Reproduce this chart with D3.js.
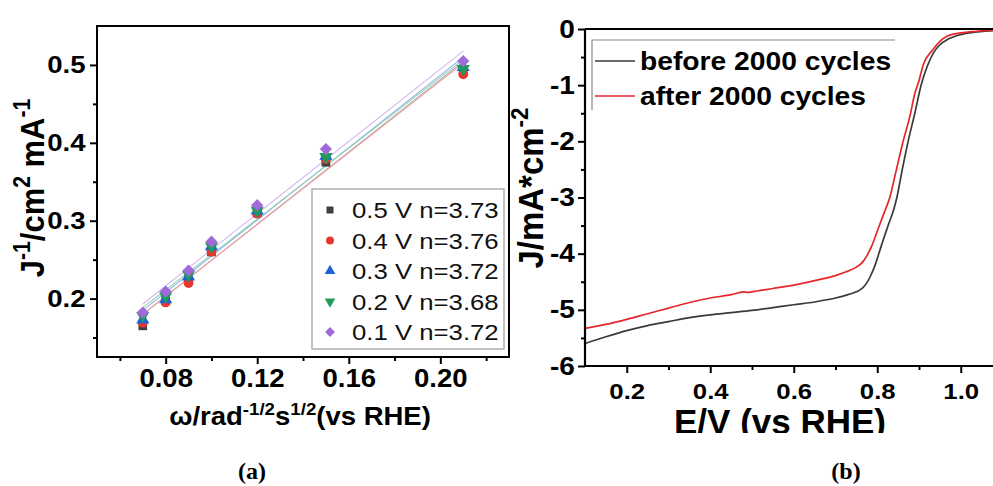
<!DOCTYPE html>
<html>
<head>
<meta charset="utf-8">
<script src="https://cdn.jsdelivr.net/npm/d3@7"></script>
<style>
  html, body { margin: 0; padding: 0; background: #fff; }
  svg { display: block; }
  text { font-family: "Liberation Sans", Arial, sans-serif; }
</style>
</head>
<body>
<script>
// ---------- Panel (a): Koutecky-Levich plots ----------
const klOmega = [0.07, 0.08, 0.09, 0.10, 0.12, 0.15, 0.21];
const klLabels = ["0.5 V n=3.73", "0.4 V n=3.76", "0.3 V n=3.72", "0.2 V n=3.68", "0.1 V n=3.72"];
const kl05 = [0.165, 0.197, 0.224, 0.260, 0.310, 0.375, 0.492];
const kl04 = [0.169, 0.195, 0.220, 0.260, 0.309, 0.379, 0.488];
const kl03 = [0.173, 0.199, 0.228, 0.267, 0.313, 0.383, 0.497];
const kl02 = [0.178, 0.203, 0.231, 0.267, 0.313, 0.382, 0.495];
const kl01 = [0.182, 0.209, 0.236, 0.273, 0.320, 0.392, 0.505];
const klXTicks = [0.08, 0.12, 0.16, 0.20];
const klXMinor = [0.06, 0.10, 0.14, 0.18, 0.22];
const klYTicks = [0.2, 0.3, 0.4, 0.5];
const klYMinor = [0.15, 0.25, 0.35, 0.45];

// ---------- Panel (b): LSV before / after cycling ----------
const lsvBeforeE = [0.10, 0.15, 0.20, 0.25, 0.30, 0.35, 0.40, 0.45, 0.50, 0.55, 0.60, 0.65, 0.70, 0.73, 0.75, 0.765, 0.775,
  0.785, 0.795, 0.805, 0.815, 0.825, 0.84, 0.847, 0.86, 0.874, 0.89, 0.905, 0.92, 0.935, 0.95, 0.97, 1.00, 1.03, 1.06, 1.10];
const lsvBeforeJ = [-5.60, -5.48, -5.37, -5.28, -5.21, -5.14, -5.09, -5.05, -5.01, -4.96, -4.91, -4.86, -4.79, -4.73, -4.68, -4.61, -4.52,
  -4.38, -4.20, -3.97, -3.74, -3.52, -3.20, -3.00, -2.50, -2.00, -1.50, -1.00, -0.66, -0.42, -0.28, -0.18, -0.10, -0.06, -0.04, -0.02];
const lsvAfterE = [0.10, 0.15, 0.20, 0.25, 0.30, 0.35, 0.40, 0.45, 0.48, 0.49, 0.50, 0.55, 0.60, 0.65, 0.70, 0.73, 0.75, 0.765,
  0.775, 0.787, 0.80, 0.815, 0.83, 0.846, 0.862, 0.878, 0.89, 0.90, 0.91, 0.933, 0.95, 0.967, 1.00, 1.04, 1.10];
const lsvAfterJ = [-5.33, -5.26, -5.17, -5.07, -4.97, -4.87, -4.79, -4.73, -4.68, -4.69, -4.68, -4.62, -4.56, -4.48, -4.39, -4.31, -4.24, -4.15,
  -4.04, -3.86, -3.60, -3.30, -3.00, -2.50, -2.00, -1.56, -1.15, -0.92, -0.64, -0.37, -0.22, -0.13, -0.07, -0.04, -0.01];
const lsvLabels = ["before 2000 cycles", "after 2000 cycles"];
const lsvXTicks = [0.2, 0.4, 0.6, 0.8, 1.0];
const lsvXMinor = [0.3, 0.5, 0.7, 0.9];
const lsvYTicks = [-6, -5, -4, -3, -2, -1, 0];
const lsvYMinor = [-5.5, -4.5, -3.5, -2.5, -1.5, -0.5];

const W = 993, H = 486;
const svg = d3.select("body").append("svg").attr("width", W).attr("height", H);

// Draws a text made of normal and superscript parts
function richText(sel, parts, fs) {
  let raised = false;
  parts.forEach(p => {
    const ts = sel.append("tspan").text(p.t);
    if (p.sup) {
      ts.attr("font-size", fs * 0.68).attr("dy", raised ? 0 : -fs * 0.42);
      raised = true;
    } else {
      ts.attr("font-size", fs);
      if (raised) { ts.attr("dy", fs * 0.42); raised = false; }
    }
  });
  return sel;
}

function styleAxis(g, fs, sx, dx, dy) {
  g.select(".domain").remove();
  g.selectAll(".tick line").attr("stroke", "#000").attr("stroke-width", 2);
  g.selectAll(".tick text")
    .attr("font-size", fs).attr("font-weight", "bold").attr("fill", "#000")
    .attr("transform", `scale(${sx},1)`);
  if (dx !== undefined) g.selectAll(".tick text").attr("x", dx);
  if (dy !== undefined) g.selectAll(".tick text").attr("y", dy).attr("dy", 0);
}

// ================= Panel (a) =================
const xA = d3.scaleLinear().domain([0.05, 0.23]).range([97, 509]);
const yA = d3.scaleLinear().domain([0.125, 0.55]).range([357, 26]);

// marker styles; the diamond is a square turned by 45 degrees
const klSeries = [
  { vals: kl05, color: "#404040", line: "#a8a8a8", sym: d3.symbolSquare, size: 75, rot: 0 },
  { vals: kl04, color: "#e8352f", line: "#f0a0a0", sym: d3.symbolCircle, size: 75, rot: 0 },
  { vals: kl03, color: "#1e63d6", line: "#8fb6ec", sym: d3.symbolTriangle, size: 75, rot: 0 },
  { vals: kl02, color: "#1f9a5a", line: "#93d2ad", sym: d3.symbolTriangle, size: 75, rot: 180 },
  { vals: kl01, color: "#a26ad8", line: "#d3b6f0", sym: d3.symbolSquare, size: 75, rot: 45 }
];
// least squares fit for each series
function fit(xs, ys) {
  const mx = d3.mean(xs), my = d3.mean(ys);
  const b = d3.sum(xs, (x, i) => (x - mx) * (ys[i] - my)) / d3.sum(xs, x => (x - mx) * (x - mx));
  return { b, a: my - b * mx };
}
const gA = svg.append("g");
const x0 = d3.min(klOmega), x1 = d3.max(klOmega);
klSeries.forEach(s => {
  const f = fit(klOmega, s.vals);
  gA.append("line")
    .attr("x1", xA(x0)).attr("y1", yA(f.a + f.b * x0))
    .attr("x2", xA(x1)).attr("y2", yA(f.a + f.b * x1))
    .attr("stroke", s.line).attr("stroke-width", 1.1);
});
klSeries.forEach(s => {
  gA.selectAll(null).data(klOmega).enter().append("path")
    .attr("d", d3.symbol().type(s.sym).size(s.size))
    .attr("transform", (d, i) => `translate(${xA(d)},${yA(s.vals[i])}) rotate(${s.rot})`)
    .attr("fill", s.color);
});

// axes of (a)
svg.append("g").attr("transform", "translate(0,357)")
  .call(d3.axisBottom(xA).tickValues(klXMinor).tickSize(4).tickFormat(""))
  .call(g => { g.select(".domain").remove(); g.selectAll("line").attr("stroke", "#000").attr("stroke-width", 2); });
svg.append("g").attr("transform", "translate(0,357)")
  .call(d3.axisBottom(xA).tickValues(klXTicks).tickSize(7).tickFormat(d3.format(".2f")))
  .call(g => styleAxis(g, 25, 1.1, undefined, 30));
svg.append("g").attr("transform", "translate(97,0)")
  .call(d3.axisLeft(yA).tickValues(klYMinor).tickSize(4).tickFormat(""))
  .call(g => { g.select(".domain").remove(); g.selectAll("line").attr("stroke", "#000").attr("stroke-width", 2); });
svg.append("g").attr("transform", "translate(97,0)")
  .call(d3.axisLeft(yA).tickValues(klYTicks).tickSize(7).tickFormat(d3.format(".1f")))
  .call(g => styleAxis(g, 24, 1.15, -10));
svg.append("rect").attr("x", 97).attr("y", 26).attr("width", 412).attr("height", 331)
  .attr("fill", "none").attr("stroke", "#000").attr("stroke-width", 2);

// legend of (a)
const legA = svg.append("g");
legA.append("rect").attr("x", 312).attr("y", 189).attr("width", 192).attr("height", 160)
  .attr("fill", "#fff").attr("stroke", "#9a9a9a").attr("stroke-width", 1.2);
klSeries.forEach((s, i) => {
  const cy = 210 + i * 30.5;
  legA.append("path").attr("d", d3.symbol().type(s.sym).size(s.size * 0.65))
    .attr("transform", `translate(330,${cy}) rotate(${s.rot})`)
    .attr("fill", s.color);
  legA.append("text").attr("transform", `translate(352,${cy + 8}) scale(1.17,1)`)
    .attr("font-size", 22).attr("fill", "#111").text(klLabels[i]);
});

// titles of (a)
richText(svg.append("text").attr("transform", "translate(300,425) scale(1.1,1)")
  .attr("text-anchor", "middle").attr("font-weight", "bold").attr("fill", "#000"),
  [{ t: "ω/rad" }, { t: "-1/2", sup: true }, { t: "s" }, { t: "1/2", sup: true }, { t: "(vs RHE)" }], 25);
richText(svg.append("text").attr("transform", "translate(44,188) rotate(-90) scale(1,1.1)")
  .attr("text-anchor", "middle").attr("font-weight", "bold").attr("fill", "#000"),
  [{ t: "J" }, { t: "-1", sup: true }, { t: "/cm" }, { t: "2", sup: true }, { t: " mA" }, { t: "-1", sup: true }], 31);

// ================= Panel (b) =================
const xB = d3.scaleLinear().domain([0.1, 1.1]).range([585, 1002.5]);
const yB = d3.scaleLinear().domain([-6, 0]).range([366, 29]);

svg.append("defs").append("clipPath").attr("id", "clipB")
  .append("rect").attr("x", 585).attr("y", 29).attr("width", 420).attr("height", 337);
svg.append("defs").append("clipPath").attr("id", "clipTitle")
  .append("rect").attr("x", 500).attr("y", 380).attr("width", 493).attr("height", 53);

const line = d3.line().x(d => xB(d[0])).y(d => yB(d[1])).curve(d3.curveMonotoneX);
const gB = svg.append("g").attr("clip-path", "url(#clipB)");
gB.append("path").datum(lsvBeforeE.map((e, i) => [e, lsvBeforeJ[i]]))
  .attr("d", line).attr("fill", "none").attr("stroke", "#3a3a3a").attr("stroke-width", 1.7);
gB.append("path").datum(lsvAfterE.map((e, i) => [e, lsvAfterJ[i]]))
  .attr("d", line).attr("fill", "none").attr("stroke", "#e5262b").attr("stroke-width", 1.7);

// axes of (b)
svg.append("g").attr("transform", "translate(0,366)")
  .call(d3.axisBottom(xB).tickValues(lsvXMinor).tickSize(4).tickFormat(""))
  .call(g => { g.select(".domain").remove(); g.selectAll("line").attr("stroke", "#000").attr("stroke-width", 2); });
svg.append("g").attr("transform", "translate(0,366)")
  .call(d3.axisBottom(xB).tickValues(lsvXTicks).tickSize(7).tickFormat(d3.format(".1f")))
  .call(g => styleAxis(g, 23, 1.12, undefined, 33));
svg.append("g").attr("transform", "translate(585,0)")
  .call(d3.axisLeft(yB).tickValues(lsvYMinor).tickSize(4).tickFormat(""))
  .call(g => { g.select(".domain").remove(); g.selectAll("line").attr("stroke", "#000").attr("stroke-width", 2); });
svg.append("g").attr("transform", "translate(585,0)")
  .call(d3.axisLeft(yB).tickValues(lsvYTicks).tickSize(7).tickFormat(d => String(d)))
  .call(g => styleAxis(g, 25, 1.12, -9));
svg.append("path").attr("d", `M585,29V366H${W}M585,29H${W}`)
  .attr("fill", "none").attr("stroke", "#000").attr("stroke-width", 2.2);

// legend of (b)
const legB = svg.append("g");
legB.append("path").attr("d", "M592,110V40H895").attr("fill", "none").attr("stroke", "#8a8a8a").attr("stroke-width", 1.2);
[["#3a3a3a", 61], ["#e5262b", 96]].forEach((c, i) => {
  legB.append("line").attr("x1", 595).attr("x2", 635).attr("y1", c[1]).attr("y2", c[1])
    .attr("stroke", c[0]).attr("stroke-width", 1.7);
  legB.append("text").attr("transform", `translate(640,${c[1] + 9}) scale(1.13,1)`)
    .attr("font-size", 25).attr("font-weight", "bold").attr("fill", "#000").text(lsvLabels[i]);
});

// titles of (b)
svg.append("text").attr("clip-path", "url(#clipTitle)")
  .attr("x", 780).attr("y", 434).attr("text-anchor", "middle")
  .attr("font-size", 35).attr("font-weight", "bold").attr("fill", "#000").text("E/V (vs RHE)");
richText(svg.append("text").attr("transform", "translate(543,188) rotate(-90) scale(1,1.05)")
  .attr("text-anchor", "middle").attr("font-weight", "bold").attr("fill", "#000"),
  [{ t: "J/mA*cm" }, { t: "-2", sup: true }], 33);

// panel captions
svg.append("text").attr("x", 252).attr("y", 479).attr("text-anchor", "middle")
  .style("font-family", "'Liberation Serif', 'Times New Roman', serif")
  .attr("font-size", 24).attr("font-weight", "bold").text("(a)");
svg.append("text").attr("x", 846).attr("y", 479).attr("text-anchor", "middle")
  .style("font-family", "'Liberation Serif', 'Times New Roman', serif")
  .attr("font-size", 24).attr("font-weight", "bold").text("(b)");
</script>
</body>
</html>
